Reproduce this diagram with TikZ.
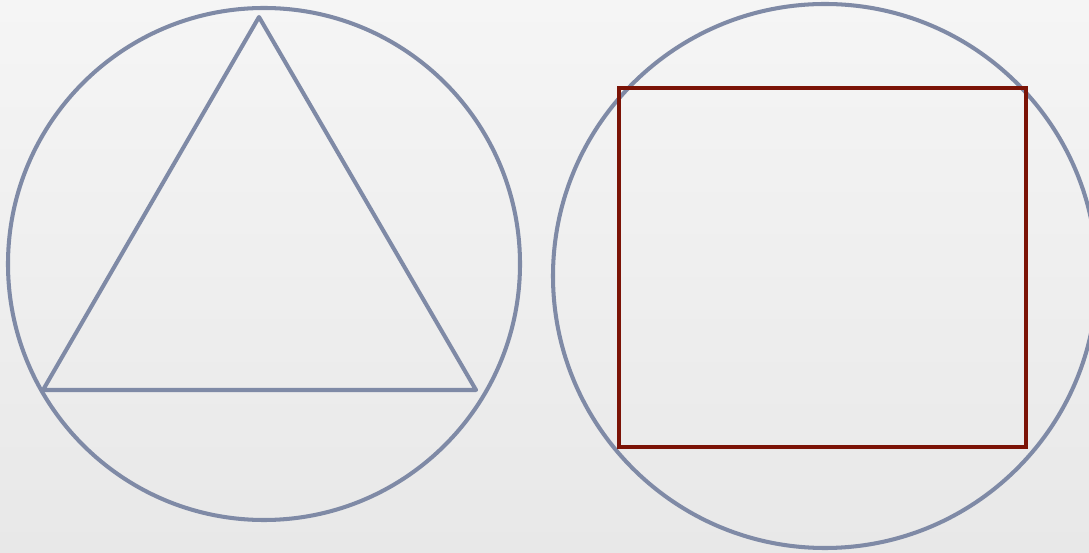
\documentclass[tikz,border=0pt]{standalone}
\usepackage{tikz}
\usetikzlibrary{calc}
\definecolor{ringgray}{HTML}{7F8AA6}
\definecolor{boxred}{HTML}{7B1306}
\definecolor{paperhi}{HTML}{F5F5F5}
\definecolor{paperlo}{HTML}{E8E8E8}
\tikzset{
  ring/.style={draw=ringgray, line width=2.3pt},
  tri/.style={draw=ringgray, line width=2.3pt, line join=round},
  frame/.style={draw=boxred, line width=2.3pt, line join=miter}
}
\begin{document}
\begin{tikzpicture}[x=0.02cm,y=-0.02cm]
                    % paper background
                    \shade[top color=paperhi, bottom color=paperlo] (0,0) rectangle (1089,553);
                    \useasboundingbox (0,0) rectangle (1089,553);
                    \begin{scope}
                        \clip (0,0) rectangle (1089,553);
                        % left: triangle in circle
                        \coordinate (lc) at (264,264);
                        \draw[ring] (lc) circle (256);
                        \coordinate (ta) at (259,17);
                        \coordinate (tb) at (43,390);
                        \coordinate (tc) at (476,390);
                        \draw[tri] (ta) -- (tb) -- (tc) -- cycle;
                        % right: rectangle in circle
                        \coordinate (rc) at (825,276);
                        \draw[ring] (rc) circle (272);
                        \draw[frame] (619,88) rectangle (1026,447);
                    \end{scope}
                \end{tikzpicture}
\end{document}
